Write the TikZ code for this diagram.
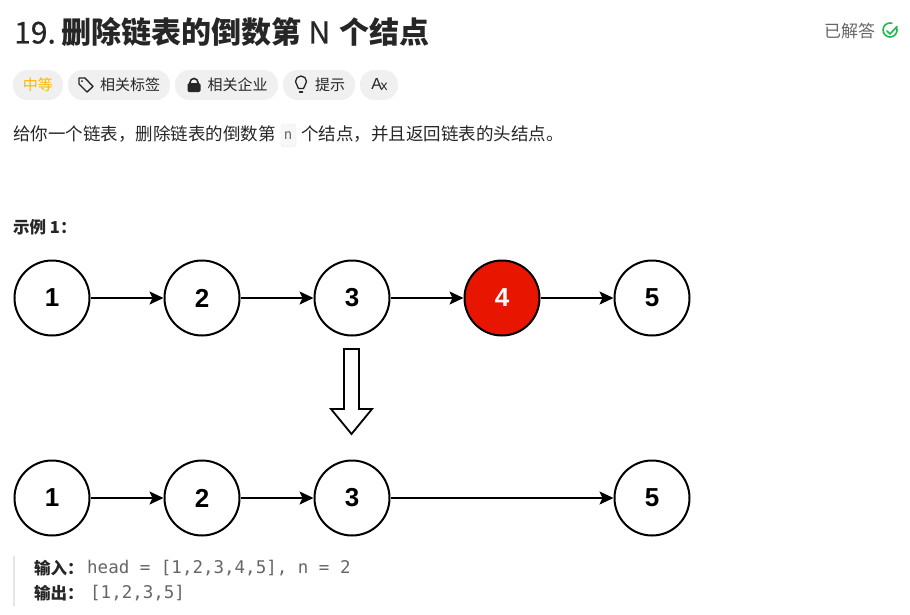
\documentclass[tikz,border=0pt]{standalone}
\usepackage{fontspec}
\setmainfont{Noto Sans CJK SC}
\newfontfamily\latinf{Liberation Sans}
\newfontfamily\monof{DejaVu Sans Mono}
\newfontfamily\titlelat[FakeBold=0.5]{Noto Sans CJK SC}
\usetikzlibrary{arrows.meta,shapes.arrows}
\definecolor{ink}{HTML}{262626}
\definecolor{chip}{HTML}{F0F0F0}
\definecolor{gold}{HTML}{FFB800}
\definecolor{redn}{HTML}{E81500}
\definecolor{grayt}{HTML}{666666}
\definecolor{okgreen}{HTML}{1CBA4A}
\tikzset{
  x=1pt,y=-1pt,
  circ/.style={circle,draw=black,line width=2pt,minimum size=75pt,inner sep=0pt,fill=white,font=\latinf\bfseries\fontsize{26}{26}\selectfont},
  redc/.style={circ,fill=redn,text=white},
  link/.style={draw=black,line width=1.8pt,-{Stealth[length=14pt,width=13pt,inset=3pt]}},
  chipbox/.style={fill=chip,rounded corners=14.5pt,draw=none},
  chiptext/.style={anchor=center,inner sep=0pt,text=ink,font=\fontsize{15}{15}\selectfont},
  body/.style={anchor=west,inner sep=0pt,text=ink,font=\fontsize{17.5}{18}\selectfont},
  boldt/.style={anchor=west,inner sep=0pt,text=ink,font=\bfseries\fontsize{16.5}{17}\selectfont},
  code/.style={anchor=west,inner sep=0pt,text=grayt,font=\monof\fontsize{17.5}{18}\selectfont},
}
\begin{document}
\begin{tikzpicture}
\useasboundingbox (0,0) rectangle (910,614);
\fill[white] (0,0) rectangle (910,614);
% header
\node[anchor=west,inner sep=0pt,text=ink,font=\fontsize{30}{31}\selectfont] (title) at (14,32) {{\titlelat 19.}\kern-3pt{} \textbf{删除链表的倒数第} {\titlelat N}\kern3pt{} \textbf{个结点}};
\node[anchor=west,inner sep=0pt,text=grayt,font=\fontsize{17}{18}\selectfont] (solved) at (824,31) {已解答};
\draw[okgreen,line width=1.6pt] (896.6,27.6) arc (-20:290:7);
\draw[okgreen,line width=1.6pt,line cap=round,line join=round] (887,31) -- (890,34) -- (897,26.5);
% chips
\fill[chipbox] (13,70) rectangle (63,100);
\node[chiptext,text=gold] (t1) at (38,85) {中等};
\fill[chipbox] (68,70) rectangle (170,100);
\node[chiptext] (t2) at (130,85) {相关标签};
\draw[ink,line width=1.4pt,line join=round] (79,78) -- (85,78) -- (93,86.5) -- (87,92) -- (79,84) -- cycle;
\fill[ink] (82,81) circle (1);
\fill[chipbox] (175,70) rectangle (278,100);
\node[chiptext] (t3) at (237.7,85) {相关企业};
\fill[ink,rounded corners=1.5pt] (187.5,83) rectangle (200.5,92);
\draw[ink,line width=1.6pt] (190,83) -- (190,82.5) arc (180:360:4) -- (198,83);
\fill[chipbox] (283,70) rectangle (355,100);
\node[chiptext] (t4) at (330,85) {提示};
\draw[ink,line width=1.3pt,line join=round] (298.5,88.5) .. controls (298,85) and (295.5,84.5) .. (295.5,81.5) arc (180:360:5.5) .. controls (306.5,84.5) and (304,85) .. (303.5,88.5) -- cycle;
\draw[ink,line width=1.5pt,line cap=round] (299.5,92) -- (302.5,92);
\fill[chipbox] (360,70) rectangle (398,100);
\node[chiptext,font=\latinf\fontsize{16}{16}\selectfont] (t5) at (379.5,84.5) {A\kern-1.5pt\raisebox{-1pt}{\fontsize{14}{14}\selectfont x}};
% description
\node[body] (d1) at (13,134) {给你一个链表，删除链表的倒数第};
\filldraw[fill=black!3,draw=black!8,rounded corners=3pt] (281,124) rectangle (296,147);
\node[inner sep=0pt,text=grayt,font=\monof\fontsize{14}{14}\selectfont] (nn) at (288,136) {n};
\node[body] (d2) at (301,134) {个结点，并且返回链表的头结点。};
\node[boldt] (ex) at (13,227) {示例 1：};
% upper list
\node[circ] (a1) at (52,298) {1};
\node[circ] (a2) at (202,298) {2};
\node[circ] (a3) at (352,298) {3};
\node[redc] (a4) at (502,298) {4};
\node[circ] (a5) at (652,298) {5};
\draw[link] (a1) -- (a2);
\draw[link] (a2) -- (a3);
\draw[link] (a3) -- (a4);
\draw[link] (a4) -- (a5);
% big arrow
\draw[black,line width=1.8pt,fill=white,line join=miter] (344,349) -- (359,349) -- (359,409) -- (372,409) -- (351.5,434) -- (331,409) -- (344,409) -- cycle;
% lower list
\node[circ] (b1) at (52,498) {1};
\node[circ] (b2) at (202,498) {2};
\node[circ] (b3) at (352,498) {3};
\node[circ] (b5) at (652,498) {5};
\draw[link] (b1) -- (b2);
\draw[link] (b2) -- (b3);
\draw[link] (b3) -- (b5);
% blockquote
\fill[black!10] (13,556) rectangle (15,606);
\node[boldt] (i1) at (34,568) {输入：};
\node[code] (i2) at (87,568) {head = [1,2,3,4,5], n = 2};
\node[boldt] (o1) at (34,593) {输出：};
\node[code] (o2) at (90,593) {[1,2,3,5]};
\end{tikzpicture}
\end{document}
